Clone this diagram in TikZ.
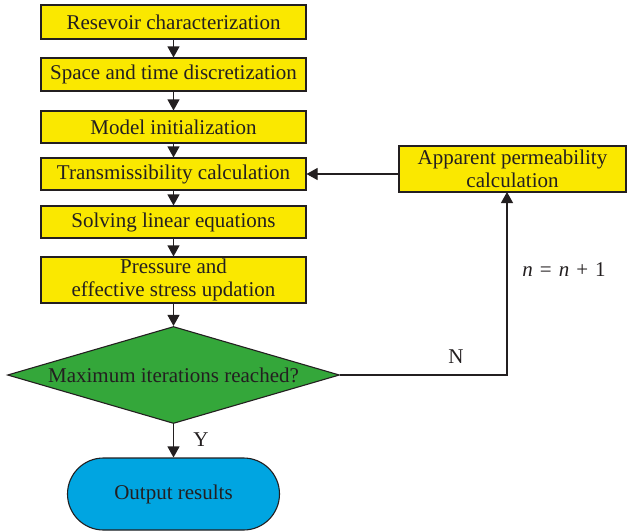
\documentclass[tikz,border=0pt]{standalone}
\usepackage{fontspec}
\setmainfont{Liberation Serif}
\usetikzlibrary{arrows.meta,shapes.geometric,shapes.misc}
\definecolor{boxyellow}{HTML}{FAE800}
\definecolor{dgreen}{HTML}{34A73A}
\definecolor{tblue}{HTML}{00A5E1}
\definecolor{ink}{HTML}{231F20}
\tikzset{
  stepbox/.style={draw=ink, line width=1.1pt, fill=boxyellow, minimum width=265pt, inner sep=0pt, align=center, text=ink, font=\fontsize{21}{23}\selectfont},
  decide/.style={draw=ink, line width=1.1pt, fill=dgreen, diamond, minimum width=332pt, minimum height=97pt, aspect=3.4, inner sep=0pt, text=ink, font=\fontsize{21}{23}\selectfont},
  termbox/.style={draw=ink, line width=1.1pt, fill=tblue, rounded rectangle, minimum width=212pt, minimum height=72pt, inner sep=0pt, text=ink, font=\fontsize{21}{23}\selectfont},
  flow/.style={draw=ink, line width=1.1pt, -{Triangle[length=11pt,width=12pt]}},
  lbl/.style={text=ink, font=\fontsize{21}{23}\selectfont}
}
\begin{document}
\begin{tikzpicture}[x=1pt,y=-1pt]
\useasboundingbox (0,0) rectangle (627,531);
\node[stepbox, minimum height=34pt] (b1) at (173.5,22) {Resevoir characterization};
\node[stepbox, minimum height=33pt] (b2) at (173.5,74.5) {Space and time discretization};
\node[stepbox, minimum height=32pt] (b3) at (173.5,127) {Model initialization};
\node[stepbox, minimum height=32pt] (b4) at (173.5,174) {Transmissibility calculation};
\node[stepbox, minimum height=32pt] (b5) at (173.5,222) {Solving linear equations};
\node[stepbox, minimum height=46pt] (b6) at (173.5,280) {Pressure and\\effective stress updation};
\node[decide] (d) at (173.5,375) {Maximum iterations reached?};
\node[termbox] (out) at (173.5,494) {Output results};
\node[stepbox, minimum width=227pt, minimum height=46pt] (ap) at (512.5,169) {Apparent permeability\\calculation};
\coordinate (up) at (507,192);
\draw[flow] (b1) -- (b2);
\draw[flow] (b2) -- (b3);
\draw[flow] (b3) -- (b4);
\draw[flow] (b4) -- (b5);
\draw[flow] (b5) -- (b6);
\draw[flow] (b6) -- (d);
\draw[flow] (d) -- (out);
\draw[flow] (d.east) -| (up);
\draw[flow] (b4.east -| ap.west) -- (b4.east);
\node[lbl] (y) at (201,440) {Y};
\node[lbl] (n) at (456,357) {N};
\node[lbl] (inc) at (564,270) {\textit{n}\,\,=\,\,\textit{n}\,\,+\,\,1};
\end{tikzpicture}
\end{document}
